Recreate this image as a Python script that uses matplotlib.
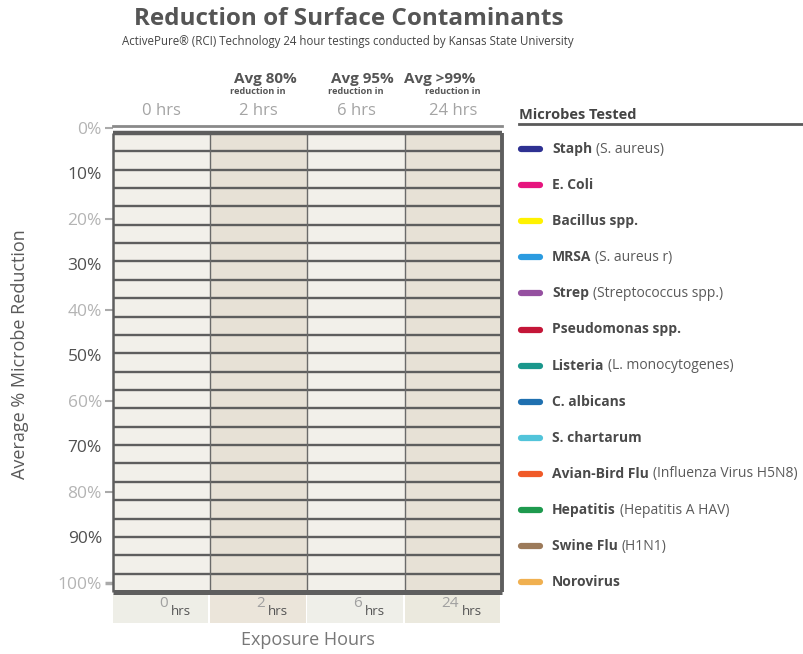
import numpy as np
import matplotlib
matplotlib.use('Agg')
import matplotlib.pyplot as plt
from matplotlib.lines import Line2D

plt.rcParams['font.family'] = ['Open Sans', 'DejaVu Sans']

# Data
hours = ['0', '2', '6', '24']
pct_ticks = [0, 10, 20, 30, 40, 50, 60, 70, 80, 90, 100]
grid_step = 4          # each grid row is 4 %
avg_titles = ['Avg 80%', 'Avg 95%', 'Avg >99%']
microbes = ['Staph', 'E. Coli', 'Bacillus spp.', 'MRSA', 'Strep', 'Pseudomonas spp.',
            'Listeria', 'C. albicans', 'S. chartarum', 'Avian-Bird Flu', 'Hepatitis',
            'Swine Flu', 'Norovirus']
microbe_notes = ['(S. aureus)', '', '', '(S. aureus r)', '(Streptococcus spp.)', '',
                 '(L. monocytogenes)', '', '', '(Influenza Virus H5N8)', '(Hepatitis A HAV)',
                 '(H1N1)', '']
microbe_colors = ['#2e3192', '#e6157e', '#fff200', '#2b9be0', '#9550a0', '#c41638',
                  '#1a978c', '#1f70b0', '#52c4da', '#f05a28', '#1e9a4e', '#9c7a5a', '#f0b050']

W, H = 804, 654
fig = plt.figure(figsize=(W / 100, H / 100), dpi=100)
fig.patch.set_facecolor('white')

def fy(py):
    return 1 - py / H

# axes: top spine is the faint upper axis line, grid starts just below it
ax = fig.add_axes([113 / W, fy(592), 389 / W, (592 - 126) / H])
ax.set_xlim(0, len(hours))
ax.set_ylim(100, -1.5)

x = np.arange(len(hours))
col_colors = ['#f2f0ea', '#e7e1d6'] * 2
ax.bar(x, [100] * len(hours), width=1, bottom=0, align='edge', color=col_colors, zorder=1)

line_c = '#5e5e5e'
ax.hlines(np.arange(grid_step, 100, grid_step), 0, len(hours), color=line_c, lw=1.7, zorder=2)
ax.vlines(x[1:], 0, 100, color='#6a6a6a', lw=1.0, zorder=2)
ax.hlines([0], 0, len(hours), color=line_c, lw=3.2, zorder=3)
ax.hlines([100], 0, len(hours), color=line_c, lw=3.6, zorder=3, clip_on=False)
ax.vlines([0], 0, 100, color=line_c, lw=1.8, zorder=3, clip_on=False)
ax.vlines([len(hours)], 0, 100, color=line_c, lw=2.8, zorder=3, clip_on=False)

for s in ['right', 'bottom', 'left']:
    ax.spines[s].set_visible(False)
ax.spines['top'].set_color('#8a8a8a')
ax.spines['top'].set_linewidth(2)

# y ticks (labels sit slightly above the grid rows in the original)
ax.set_yticks([v * 0.991 - 1.09 for v in pct_ticks])
ax.set_yticklabels([f'{v}%' for v in pct_ticks], fontsize=12.5)
ax.tick_params(axis='y', length=6, width=1.5, color='#aaaaaa', pad=2)
for i, (t, lab) in enumerate(zip(ax.yaxis.get_major_ticks(), ax.get_yticklabels())):
    if i % 2 == 1:
        t.tick1line.set_visible(False)
        lab.set_color('#505050')
    else:
        lab.set_color('#b4b4b4')
ax.yaxis.get_major_ticks()[-1].tick1line.set_color('#666666')
ax.yaxis.get_major_ticks()[-1].tick1line.set_markeredgewidth(2.5)

# top hour labels
ax.xaxis.tick_top()
ax.set_xticks(x + 0.5)
ax.set_xticklabels([f'{h} hrs' for h in hours], fontsize=12, color='#a4a4a4')
ax.tick_params(axis='x', length=0, pad=5)

# bottom hour labels with faint boxes
ax.bar(x, [6.4] * len(hours), width=0.98, bottom=100.4, align='edge',
       color=['#eeeee7', '#ebe5da', '#efefe9', '#ebe9de'], clip_on=False, zorder=0)
for i, h in enumerate(hours):
    ax.text(i + 0.56, 102.4, h, ha='right', va='center', fontsize=11, color='#a0a0a0', clip_on=False)
    ax.text(i + 0.59, 104.2, 'hrs', ha='left', va='center', fontsize=9.5, color='#555555', clip_on=False)

ax.xaxis.set_label_position('bottom')
ax.set_xlabel('Exposure Hours', fontsize=13, color='#777777', labelpad=28)
ax.set_ylabel('Average % Microbe Reduction', fontsize=13, color='#5a5a5a')
ax.yaxis.set_label_coords(-0.215, 0.51)

# titles
fig.text(349 / W, fy(19), 'Reduction of Surface Contaminants', ha='center', va='center',
         fontsize=17.5, fontweight='bold', color='#555555')
fig.text(348 / W, fy(41), 'ActivePure\u00ae (RCI) Technology 24 hour testings conducted by Kansas State University',
         ha='center', va='center', fontsize=8.3, color='#444444')

avg_x = [265, 362, 440]
red_x = [258, 356, 453]
for t, ax_px, rx in zip(avg_titles, avg_x, red_x):
    fig.text(ax_px / W, fy(79), t, ha='center', va='center', fontsize=11,
             fontweight='bold', color='#555555')
    fig.text(rx / W, fy(92), 'reduction in', ha='center', va='center', fontsize=6.6,
             fontweight='bold', color='#555555')

# legend
fig.text(519 / W, fy(115), 'Microbes Tested', ha='left', va='center', fontsize=10.5,
         fontweight='bold', color='#444444')
fig.add_artist(Line2D([519 / W, 1.0], [fy(123.5)] * 2, color='#5a5a5a', lw=2))

renderer = fig.canvas.get_renderer()
for i, (name, note, c) in enumerate(zip(microbes, microbe_notes, microbe_colors)):
    yy = fy(149 + i * 36.1)
    fig.add_artist(Line2D([521 / W, 540 / W], [yy, yy], color=c, lw=4.5, solid_capstyle='round'))
    t = fig.text(552 / W, yy, name, ha='left', va='center', fontsize=10,
                 fontweight='bold', color='#4a4a4a')
    if note:
        bb = t.get_window_extent(renderer)
        fig.text((bb.x1 + 4) / W, yy, note, ha='left', va='center', fontsize=10, color='#5a5a5a')

fig.savefig('out.png', dpi=100, facecolor='white')
